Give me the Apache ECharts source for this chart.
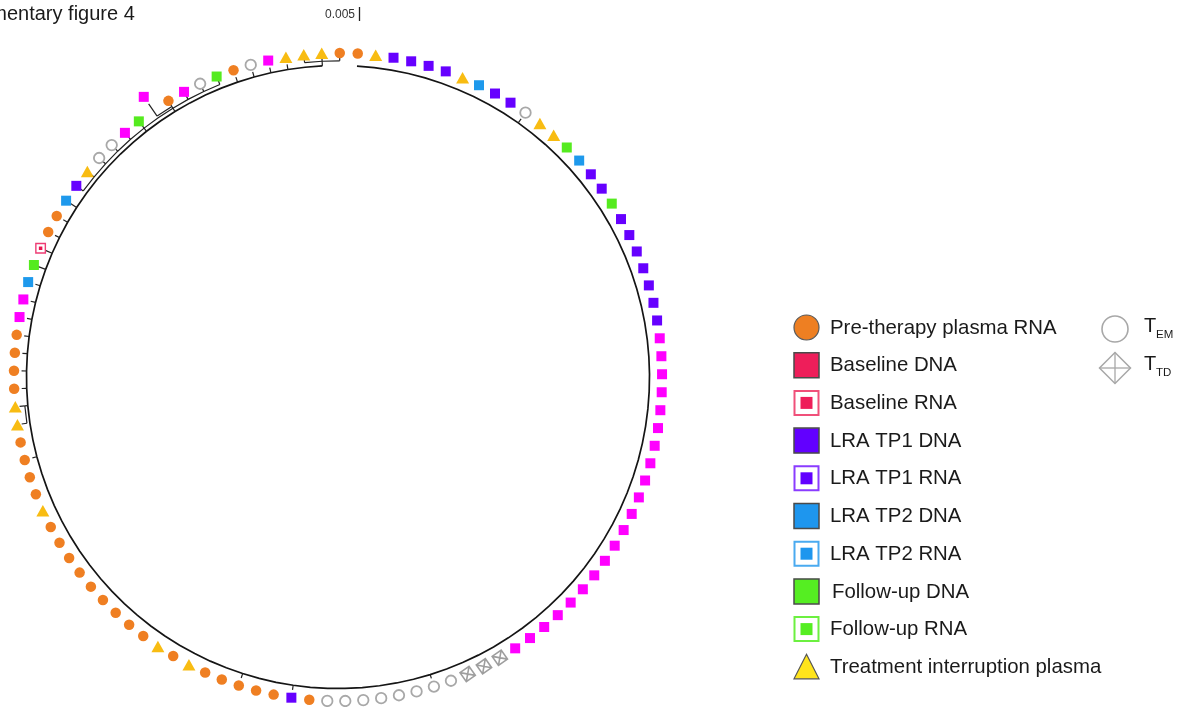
<!DOCTYPE html>
<html>
<head>
<meta charset="utf-8">
<script src="https://cdn.jsdelivr.net/npm/echarts@6.0.0/dist/echarts.min.js"></script>
<style>
  html, body { margin: 0; padding: 0; background: #ffffff; }
  #chart { width: 1184px; height: 707px; }
</style>
</head>
<body>
<div id="chart"></div>
<script>
// Sample type of every tip of the circular tree, clockwise from the top.
// O pre-therapy plasma RNA, T treatment interruption plasma, P LRA TP1 DNA,
// B LRA TP2 DNA, F follow-up DNA, M baseline DNA, R baseline RNA,
// G T_EM, D T_TD
const tipTypes = [
  'O','T','P','P','P','P','T','B','P','P',   // 1-10
  'G','T','T','F','B','P','P','F','P','P',   // 11-20
  'P','P','P','P','P','M','M','M','M','M',   // 21-30
  'M','M','M','M','M','M','M','M','M','M',   // 31-40
  'M','M','M','M','M','M','D','D','D','G',   // 41-50
  'G','G','G','G','G','G','G','O','P','O',   // 51-60
  'O','O','O','O','T','O','T','O','O','O',   // 61-70
  'O','O','O','O','O','O','T','O','O','O',   // 71-80
  'O','T','T','O','O','O','O','M','M','B',   // 81-90
  'F','R','O','O','B','P','T','G','G','M',   // 91-100
  'F','M','O','M','G','F','O','G','M','T',   // 101-110
  'T','T','O'                                // 111-113
];
const tipIds = tipTypes.map((_, i) => String(i + 1));

// Tree depths (axis units 0-110)
const backboneDepth = 94.4;
const tipDepth = 98.2;
const longTipIds = [102];
const longTipDepth = [103.3];

// Tips whose terminal branch is visible, and that branch's length
const stemTips = [11, 51, 59, 62, 80, 82, 83,
  84, 85, 86, 87, 88, 89, 90, 91, 92, 93, 94, 95, 96, 97, 98, 99, 100,
  101, 102, 103, 104, 105, 106, 107, 108, 109, 110, 111, 112, 113];
const stemLen = [1.5, 1.2, 1.4, 1.4, 1.4, 1.6, 1.6,
  1.5, 1.5, 1.5, 1.5, 1.5, 1.5, 1.5, 2.6, 2.4, 1.5, 1.5, 2.6, 1.3, 1.3, 1.6, 1.5, 1.5,
  1.4, 4.5, 1.3, 1.3, 1.3, 1.3, 1.6, 1.6, 1.6, 1.6, 1.4, 1.4, 1.4];

// Sub-clades drawn as inner arcs: first tip, last tip, node depth
const cladeFrom = [82, 96, 102, 111];
const cladeTo = [83, 106, 103, 113];
const cladeDepth = [95.3, 95.6, 96.2, 95.8];

// Backbone spans these tips
const backboneFrom = 1;
const backboneTo = 112;

// Legend entries
const legendLabels = [
  'Pre-therapy plasma RNA', 'Baseline DNA', 'Baseline RNA', 'LRA TP1 DNA', 'LRA TP1 RNA',
  'LRA TP2 DNA', 'LRA TP2 RNA', 'Follow-up DNA', 'Follow-up RNA', 'Treatment interruption plasma'
];

const FONT = '"Liberation Sans", Arial, Helvetica, sans-serif';

const xPath = 'path://M0,0L10,0L10,10L0,10Z M0,0L10,10 M10,0L0,10';

const typeStyle = {
  O: { name: 'Pre-therapy plasma RNA', symbol: 'circle', size: 10.5, item: { color: '#EF7F22' } },
  T: { name: 'Treatment interruption plasma', symbol: 'triangle', size: [13, 11.5], item: { color: '#F8BC12' } },
  P: { name: 'LRA TP1 DNA', symbol: 'rect', size: 10, item: { color: '#6600FF' } },
  B: { name: 'LRA TP2 DNA', symbol: 'rect', size: 10, item: { color: '#1E99EC' } },
  F: { name: 'Follow-up DNA', symbol: 'rect', size: 10, item: { color: '#55EB1F' } },
  M: { name: 'Baseline DNA', symbol: 'rect', size: 10, item: { color: '#FF00FF' } },
  R: { name: 'Baseline RNA', symbol: 'rect', size: 9.5, item: { color: '#ffffff', borderColor: '#EE3C74', borderWidth: 1.4 } },
  G: { name: 'TEM', symbol: 'circle', size: 10.5, item: { color: '#ffffff', borderColor: '#A8A8A8', borderWidth: 1.8 } },
  D: { name: 'TTD', symbol: xPath, size: 11, rotate: 35, item: { color: 'rgba(0,0,0,0)', borderColor: '#9E9E9E', borderWidth: 1.6 } }
};

function depthOf(i) {
  const k = longTipIds.indexOf(i + 1);
  return k >= 0 ? longTipDepth[k] : tipDepth;
}

const series = [];

// Tree lines: backbone arc, sub-clade arcs and terminal branches
series.push({
  type: 'custom',
  coordinateSystem: 'polar',
  silent: true,
  z: 1,
  data: [0],
  renderItem: function (params, api) {
    const children = [];
    const bb = [];
    for (let i = backboneFrom - 1; i <= backboneTo - 1; i++) bb.push(api.coord([backboneDepth, i]));
    children.push({ type: 'polyline', shape: { points: bb }, style: { stroke: '#151515', lineWidth: 1.7, fill: null } });
    const baseOf = {};
    for (let c = 0; c < cladeFrom.length; c++) {
      const pts = [];
      for (let i = cladeFrom[c] - 1; i <= cladeTo[c] - 1; i++) {
        pts.push(api.coord([cladeDepth[c], i]));
        baseOf[i + 1] = Math.max(baseOf[i + 1] || 0, cladeDepth[c]);
      }
      children.push({ type: 'polyline', shape: { points: pts }, style: { stroke: '#222', lineWidth: 1.2, fill: null } });
      // connector from parent node to the sub-clade
      const mid = (cladeFrom[c] + cladeTo[c]) / 2 - 1;
      const a = api.coord([backboneDepth, mid]);
      const b = api.coord([cladeDepth[c], mid]);
      children.push({ type: 'line', shape: { x1: a[0], y1: a[1], x2: b[0], y2: b[1] }, style: { stroke: '#222', lineWidth: 1.2 } });
    }
    for (let s = 0; s < stemTips.length; s++) {
      const idx = stemTips[s] - 1;
      const base = baseOf[stemTips[s]] || backboneDepth;
      const p0 = api.coord([base, idx]);
      const p1 = api.coord([base + stemLen[s], idx]);
      children.push({ type: 'line', shape: { x1: p0[0], y1: p0[1], x2: p1[0], y2: p1[1] }, style: { stroke: '#222', lineWidth: 1.2 } });
    }
    return { type: 'group', children: children };
  }
});

// One scatter series per sample type
Object.keys(typeStyle).forEach(function (code) {
  const st = typeStyle[code];
  const data = [];
  tipTypes.forEach(function (t, i) { if (t === code) data.push([depthOf(i), i]); });
  series.push({
    type: 'scatter',
    name: st.name,
    coordinateSystem: 'polar',
    symbol: st.symbol,
    symbolSize: st.size,
    symbolRotate: st.rotate || 0,
    itemStyle: Object.assign({ opacity: 1 }, st.item),
    z: 3,
    silent: true,
    data: data
  });
  if (code === 'R') {
    series.push({
      type: 'scatter', coordinateSystem: 'polar', symbol: 'rect', symbolSize: 3.5,
      itemStyle: { color: '#E8154F', opacity: 1 }, z: 4, silent: true, data: data
    });
  }
});

// Legend built from graphic elements
const LX = 806.5, TX = 830, ROW0 = 327.5, ROW = 37.7;
const legendMarks = [
  { kind: 'circle', fill: '#EE7F22' },
  { kind: 'rect', fill: '#EE1E5A' },
  { kind: 'open', color: '#EE1E5A', border: '#F0507A' },
  { kind: 'rect', fill: '#6200FF' },
  { kind: 'open', color: '#6200FF', border: '#8A3CFF' },
  { kind: 'rect', fill: '#1E96EE' },
  { kind: 'open', color: '#1E96EE', border: '#4AAAF0' },
  { kind: 'rect', fill: '#55EE22' },
  { kind: 'open', color: '#55EE22', border: '#6CF040' },
  { kind: 'tri', fill: '#FFE41C' }
];
const graphics = [];
legendLabels.forEach(function (label, i) {
  const y = ROW0 + i * ROW;
  const m = legendMarks[i];
  if (m.kind === 'circle') {
    graphics.push({ type: 'circle', shape: { cx: LX, cy: y, r: 12.5 }, style: { fill: m.fill, stroke: '#5a5a5a', lineWidth: 1.2 } });
  } else if (m.kind === 'rect') {
    graphics.push({ type: 'rect', shape: { x: LX - 12.5, y: y - 12.5, width: 25, height: 25 }, style: { fill: m.fill, stroke: '#4a4a4a', lineWidth: 1.5 } });
  } else if (m.kind === 'open') {
    graphics.push({ type: 'rect', shape: { x: LX - 12, y: y - 12, width: 24, height: 24 }, style: { fill: '#ffffff', stroke: m.border, lineWidth: 2 } });
    graphics.push({ type: 'rect', shape: { x: LX - 6, y: y - 6, width: 12, height: 12 }, style: { fill: m.color } });
  } else {
    graphics.push({ type: 'polygon', shape: { points: [[LX, y - 12.5], [LX + 12.5, y + 12], [LX - 12.5, y + 12]] }, style: { fill: m.fill, stroke: '#555', lineWidth: 1.2 } });
  }
  graphics.push({
    type: 'text', x: (i === 7 ? TX + 2 : TX), y: y + 0.5,
    style: { text: label, fontSize: 20.4, fontFamily: FONT, fill: '#1a1a1a', verticalAlign: 'middle', align: 'left' }
  });
});

// Cell-type legend: T_EM and T_TD
graphics.push({ type: 'circle', shape: { cx: 1115, cy: 329, r: 13 }, style: { fill: '#ffffff', stroke: '#A8A8A8', lineWidth: 1.6 } });
graphics.push({ type: 'text', x: 1144, y: 326, style: { text: 'T', fontSize: 20, fontFamily: FONT, fill: '#1a1a1a', verticalAlign: 'middle' } });
graphics.push({ type: 'text', x: 1156, y: 335, style: { text: 'EM', fontSize: 11.5, fontFamily: FONT, fill: '#1a1a1a', verticalAlign: 'middle' } });
graphics.push({ type: 'polygon', shape: { points: [[1115, 352.5], [1130.5, 368], [1115, 383.5], [1099.5, 368]] }, style: { fill: '#ffffff', stroke: '#A8A8A8', lineWidth: 1.5 } });
graphics.push({ type: 'line', shape: { x1: 1115, y1: 352.5, x2: 1115, y2: 383.5 }, style: { stroke: '#A8A8A8', lineWidth: 1.3 } });
graphics.push({ type: 'line', shape: { x1: 1099.5, y1: 368, x2: 1130.5, y2: 368 }, style: { stroke: '#A8A8A8', lineWidth: 1.3 } });
graphics.push({ type: 'text', x: 1144, y: 364, style: { text: 'T', fontSize: 20, fontFamily: FONT, fill: '#1a1a1a', verticalAlign: 'middle' } });
graphics.push({ type: 'text', x: 1156, y: 373, style: { text: 'TD', fontSize: 11.5, fontFamily: FONT, fill: '#1a1a1a', verticalAlign: 'middle' } });

// Branch-length scale bar
graphics.push({ type: 'text', x: 355, y: 14.5, style: { text: '0.005', fontSize: 12, fontFamily: FONT, fill: '#333', verticalAlign: 'middle', align: 'right' } });
graphics.push({ type: 'line', shape: { x1: 359.5, y1: 7, x2: 359.5, y2: 21 }, style: { stroke: '#222', lineWidth: 1.3 } });

// Figure caption
graphics.push({ type: 'text', x: -72, y: 14, style: { text: 'Supplementary figure 4', fontSize: 20, fontFamily: FONT, fill: '#1a1a1a', verticalAlign: 'middle', align: 'left' } });

const chart = echarts.init(document.getElementById('chart'), null, { renderer: 'canvas' });
chart.setOption({
  backgroundColor: '#ffffff',
  animation: false,
  polar: { center: [338, 377], radius: 363 },
  angleAxis: {
    type: 'category',
    data: tipIds,
    startAngle: 88.1,
    clockwise: true,
    boundaryGap: true,
    axisLine: { show: false },
    axisTick: { show: false },
    axisLabel: { show: false },
    splitLine: { show: false }
  },
  radiusAxis: {
    type: 'value',
    min: 0,
    max: 110,
    axisLine: { show: false },
    axisTick: { show: false },
    axisLabel: { show: false },
    splitLine: { show: false }
  },
  graphic: graphics,
  series: series
});
</script>
</body>
</html>
